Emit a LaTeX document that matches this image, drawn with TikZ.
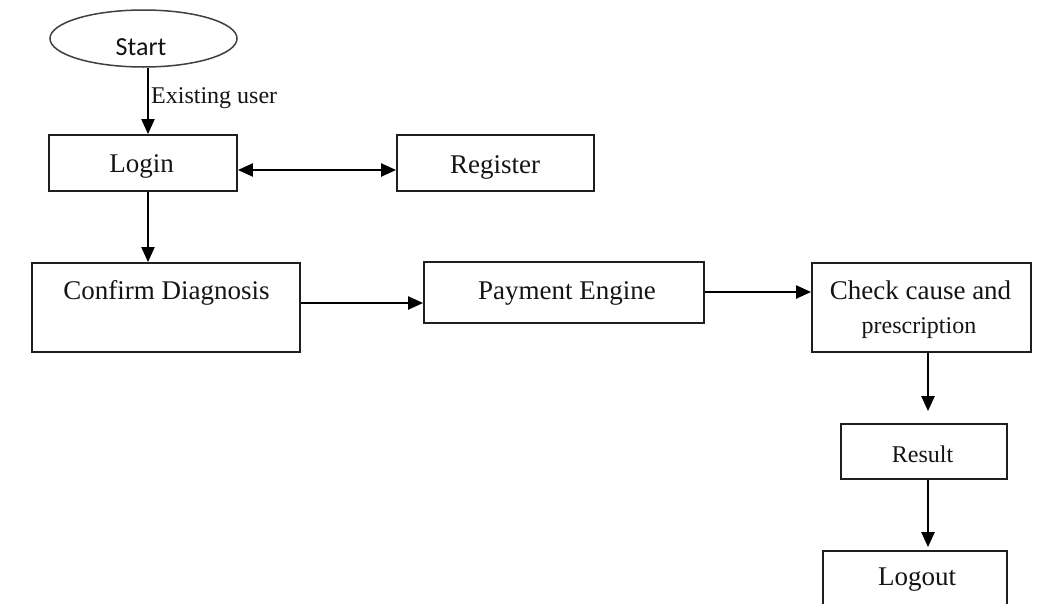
\documentclass[tikz,border=0pt]{standalone}
\usepackage{fontspec}
\setmainfont{Liberation Serif}
\newfontfamily\startfont{Carlito}
\usetikzlibrary{arrows.meta,calc,shapes.geometric}
\begin{document}
\begin{tikzpicture}[x=1pt,y=-1pt,
  box/.style={draw=black!88, line width=1.8pt, rectangle, inner sep=0pt},
  oval/.style={draw=black!75, line width=1.5pt, ellipse, inner sep=0pt},
  lbl/.style={inner sep=0pt, anchor=base, text=black!92, font=\fontsize{27}{30}\selectfont},
  smalllbl/.style={inner sep=0pt, anchor=base, text=black!92, font=\fontsize{24}{28}\selectfont},
  arr/.style={draw=black, line width=2.2pt, -{Triangle[length=15pt,width=13pt]}},
  arrboth/.style={draw=black, line width=2.2pt, {Triangle[length=15pt,width=13pt]}-{Triangle[length=15pt,width=13pt]}}
]
\path[use as bounding box, clip] (0,0) rectangle (1039,603);
\fill[white] (0,0) rectangle (1039,603);

% shapes
\node[oval, minimum width=187, minimum height=57] (start) at (143.5,38.5) {};
\node[box, minimum width=188, minimum height=56] (login) at (143,163) {};
\node[box, minimum width=197, minimum height=56] (register) at (495.5,163) {};
\node[box, minimum width=268, minimum height=89] (confirm) at (166,307.5) {};
\node[box, minimum width=280, minimum height=61] (payment) at (564,292.5) {};
\node[box, minimum width=219, minimum height=89] (check) at (921.5,307.5) {};
\node[box, minimum width=166, minimum height=55] (result) at (924,451.5) {};
\node[box, minimum width=184, minimum height=60] (logout) at (915,581) {};

% texts
\node[inner sep=0pt, anchor=base, text=black!92, font=\startfont\fontsize{26}{30}\selectfont] (startT) at (141,55) {Start};
\node[smalllbl, anchor=base west] (existT) at (151,103) {Existing user};
\node[lbl] (loginT) at (141.5,172) {Login};
\node[lbl] (registerT) at (495,173) {Register};
\node[lbl] (confirmT) at (166.5,299) {Confirm Diagnosis};
\node[lbl] (paymentT) at (567,299) {Payment Engine};
\node[lbl] (checkT) at (920.5,299) {Check cause and};
\node[smalllbl] (checkT2) at (919,333) {prescription};
\node[lbl, font=\fontsize{24}{28}\selectfont] (resultT) at (922.5,462) {Result};
\node[lbl] (logoutT) at (917,585) {Logout};

% connectors
\draw[arr] ($(start.south)+(4.5,0)$) -- ($(login.north)+(5,0)$);
\draw[arrboth] ($(login.east)+(0,7)$) -- ($(register.west)+(0,7)$);
\draw[arr] ($(login.south)+(5,0)$) -- ($(confirm.north)+(-18,0)$);
\draw[arr] ($(confirm.east)+(0,-4.5)$) -- ($(payment.west)+(0,10.5)$);
\draw[arr] ($(payment.east)+(0,-0.5)$) -- ($(check.west)+(0,-15.5)$);
\draw[arr, shorten >=12pt] ($(check.south)+(6.5,0)$) -- ($(result.north)+(4,0)$);
\draw[arr, shorten >=3pt] ($(result.south)+(4,0)$) -- ($(logout.north)+(13,0)$);
\end{tikzpicture}
\end{document}
